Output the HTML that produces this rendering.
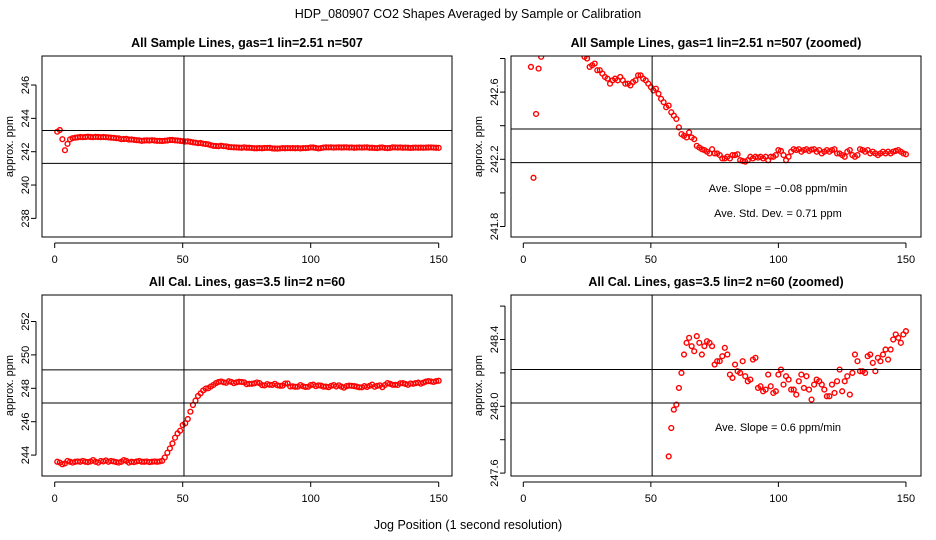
<!DOCTYPE html>
<html><head><meta charset="utf-8"><style>
html,body{margin:0;padding:0;background:#fff;overflow:hidden;width:936px;height:540px}
svg{display:block;font-family:"Liberation Sans",sans-serif}
</style></head><body>
<svg id="chart" width="936" height="540" viewBox="0 0 936 540" xmlns="http://www.w3.org/2000/svg">
<text x="468" y="18" text-anchor="middle" font-size="12.5">HDP_080907  CO2 Shapes Averaged by Sample or Calibration</text>
<text x="468" y="529" text-anchor="middle" font-size="12.5">Jog Position (1 second resolution)</text>
</svg>
<script>
const sampleValues = [243.2,243.3,242.75,242.09,242.47,242.74,242.81,242.84,242.86,242.88,242.87,242.88,242.9,242.88,242.87,242.89,242.88,242.87,242.88,242.87,242.86,242.84,242.83,242.81,242.8,242.75,242.76,242.77,242.73,242.73,242.71,242.69,242.68,242.65,242.67,242.68,242.67,242.69,242.67,242.65,242.65,242.64,242.66,242.67,242.7,242.7,242.68,242.67,242.65,242.63,242.61,242.62,242.59,242.56,242.54,242.51,242.52,242.48,242.46,242.44,242.39,242.35,242.34,242.33,242.36,242.33,242.32,242.28,242.27,242.26,242.255,242.245,242.235,242.26,242.235,242.235,242.225,242.205,242.205,242.215,242.205,242.225,242.225,242.23,242.195,242.19,242.186,242.195,242.215,242.205,242.215,242.21,242.215,242.205,242.215,242.195,242.215,242.215,242.225,242.255,242.25,242.225,242.195,242.215,242.245,242.26,242.255,242.26,242.245,242.255,242.26,242.25,242.258,242.26,242.245,242.255,242.235,242.245,242.255,242.245,242.255,242.26,242.235,242.235,242.225,242.215,242.245,242.255,242.225,242.215,242.225,242.26,242.255,242.245,242.255,242.235,242.245,242.235,242.225,242.235,242.245,242.235,242.245,242.235,242.245,242.25,242.255,242.245,242.235,242.23];
const calValues = [243.6,243.55,243.45,243.5,243.65,243.6,243.55,243.6,243.62,243.6,243.65,243.6,243.58,243.62,243.7,243.6,243.55,243.65,243.62,243.68,243.6,243.65,243.62,243.58,243.55,243.6,243.7,243.65,243.55,243.6,243.58,243.62,243.65,243.6,243.6,243.62,243.58,243.6,243.62,243.6,243.62,243.66,243.86,244.14,244.4,244.7,245.04,245.3,245.46,245.8,245.9,246.16,246.6,247.0,247.26,247.54,247.7,247.87,247.98,248.01,248.11,248.2,248.31,248.38,248.41,248.36,248.33,248.42,248.38,248.31,248.36,248.39,248.38,248.36,248.25,248.27,248.27,248.3,248.35,248.31,248.19,248.17,248.25,248.21,248.2,248.27,248.18,248.15,248.16,248.28,248.29,248.11,248.12,248.09,248.1,248.19,248.12,248.08,248.09,248.19,248.22,248.13,248.18,248.16,248.1,248.1,248.07,248.15,248.19,248.11,248.18,248.1,248.04,248.13,248.16,248.15,248.13,248.1,248.06,248.06,248.13,248.08,248.15,248.22,248.09,248.15,248.18,248.07,248.2,248.31,248.27,248.21,248.21,248.2,248.3,248.31,248.26,248.21,248.29,248.27,248.31,248.34,248.28,248.34,248.4,248.43,248.41,248.38,248.43,248.45];
const xTicks = [0,50,100,150];
const p1Ticks = [238,240,242,244,246];
const p2Ticks = [241.8,242.0,242.2,242.4,242.6,242.8];
const p2Labels = [241.8,242.2,242.6];
const p3Ticks = [244,246,248,250,252];
const p4Ticks = [247.6,247.8,248.0,248.2,248.4,248.6];
const p4Labels = [247.6,248.0,248.4];

const NS = "http://www.w3.org/2000/svg";
const svg = document.getElementById('chart');
function mk(tag, attrs, parent, text){
  const e = document.createElementNS(NS, tag);
  for (const k in attrs) e.setAttribute(k, attrs[k]);
  if (text !== undefined) e.textContent = text;
  (parent || svg).appendChild(e);
  return e;
}
function panel(id, cfg){
  const g = mk('g', {});
  
  
  const X = v => cfg.x0 + v * cfg.xs;
  const Y = v => cfg.yref - (v - cfg.vref) * cfg.ys;
  const t = mk('text', {x:(cfg.bx1+cfg.bx2)/2, y:cfg.by1-9, 'text-anchor':'middle', 'font-size':'12.5', 'font-weight':'bold'}, g, cfg.title);
  
  
  const clipId = 'clip-' + id;
  const cp = mk('clipPath', {id:clipId}, g);
  mk('rect', {x:cfg.bx1, y:cfg.by1, width:cfg.bx2-cfg.bx1, height:cfg.by2-cfg.by1}, cp);
  const pts = mk('g', {'clip-path':'url(#'+clipId+')'}, g);
  
  
  cfg.data.forEach((v, i) => {
    const c = mk('circle', {cx:X(i+1), cy:Y(v), r:2.4, fill:'none', stroke:'#ff0000', 'stroke-width':1.4}, pts);
    
    
  });
  const lines = mk('g', {stroke:'#000', 'stroke-width':1}, g);
  cfg.hlines.forEach(h => {
    const l = mk('line', {x1:cfg.bx1, x2:cfg.bx2, y1:Y(h), y2:Y(h)}, lines);
    
    
  });
  const vl = mk('line', {x1:X(50.5), x2:X(50.5), y1:cfg.by1, y2:cfg.by2}, lines);
  
  
  const box = mk('rect', {x:cfg.bx1, y:cfg.by1, width:cfg.bx2-cfg.bx1, height:cfg.by2-cfg.by1, fill:'none', stroke:'#000'}, g);
  
  
  const xa = mk('g', {'font-size':'11'}, g);
  
  
  mk('line', {x1:X(0), x2:X(150), y1:cfg.by2+6, y2:cfg.by2+6, stroke:'#000'}, xa);
  xTicks.forEach(v => {
    mk('line', {x1:X(v), x2:X(v), y1:cfg.by2+6, y2:cfg.by2+11, stroke:'#000'}, xa);
    mk('text', {x:X(v), y:cfg.by2+26, 'text-anchor':'middle'}, xa, String(v));
  });
  const ya = mk('g', {'font-size':'11'}, g);
  
  
  const ax = cfg.bx1 - 6;
  mk('line', {x1:ax, x2:ax, y1:Y(cfg.yTicks[0]), y2:Y(cfg.yTicks[cfg.yTicks.length-1]), stroke:'#000'}, ya);
  cfg.yTicks.forEach(v => mk('line', {x1:ax-5, x2:ax, y1:Y(v), y2:Y(v), stroke:'#000'}, ya));
  cfg.yLabels.forEach(v => {
    const lx = cfg.bx1 - 13;
    mk('text', {x:lx, y:Y(v), 'text-anchor':'middle', transform:'rotate(-90 '+lx+' '+Y(v)+')'}, ya, cfg.fmt(v));
  });
  const ylx = cfg.bx1 - 29;
  const yl = mk('text', {x:ylx, y:(cfg.by1+cfg.by2)/2, 'text-anchor':'middle', 'font-size':'11', transform:'rotate(-90 '+ylx+' '+((cfg.by1+cfg.by2)/2)+')'}, g, 'approx. ppm');
  
  
  (cfg.notes || []).forEach(n => {
    const tx = mk('text', {x:n[0], y:n[1], 'text-anchor':'middle', 'font-size':'11'}, g, n[2]);
    
    
  });
}
const f0 = v => String(v);
const f1 = v => v.toFixed(1);
panel('sample', {title:'All Sample Lines, gas=1 lin=2.51 n=507', bx1:42, bx2:452, by1:56, by2:237,
  x0:54.7, xs:2.56, yref:151.7, vref:242, ys:16.67, data:sampleValues, hlines:[243.27,241.3],
  yTicks:p1Ticks, yLabels:p1Ticks, fmt:f0});
panel('sample-zoomed', {title:'All Sample Lines, gas=1 lin=2.51 n=507 (zoomed)', bx1:511, bx2:921, by1:56, by2:237,
  x0:523.3, xs:2.551, yref:159.3, vref:242.2, ys:168, data:sampleValues, hlines:[242.38,242.18],
  yTicks:p2Ticks, yLabels:p2Labels, fmt:f1,
  notes:[[778,192,'Ave. Slope =  \u22120.08  ppm/min'],[778,217,'Ave. Std. Dev. =  0.71  ppm']]});
panel('cal', {title:'All Cal. Lines, gas=3.5 lin=2 n=60', bx1:42, bx2:452, by1:295, by2:476,
  x0:54.7, xs:2.56, yref:388.3, vref:248, ys:16.7, data:calValues, hlines:[249.1,247.12],
  yTicks:p3Ticks, yLabels:p3Ticks, fmt:f0});
panel('cal-zoomed', {title:'All Cal. Lines, gas=3.5 lin=2 n=60 (zoomed)', bx1:511, bx2:921, by1:295, by2:476,
  x0:523.3, xs:2.551, yref:406.3, vref:248.0, ys:167, data:calValues, hlines:[248.22,248.02],
  yTicks:p4Ticks, yLabels:p4Labels, fmt:f1,
  notes:[[778,431,'Ave. Slope =  0.6  ppm/min']]});
</script>
</body></html>
